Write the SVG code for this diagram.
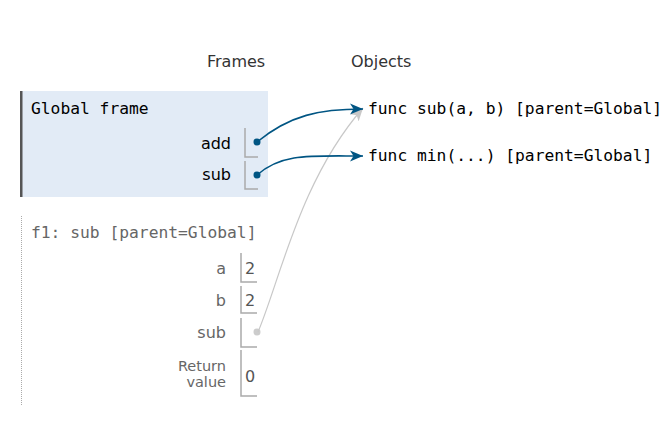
<svg xmlns="http://www.w3.org/2000/svg" width="670" height="422" viewBox="0 0 670 422">
  <style>
    .hdr { font-family: "DejaVu Sans", Verdana, sans-serif; font-size: 16px; fill: #333; }
    .mono { font-family: "DejaVu Sans Mono", "Liberation Mono", monospace; font-size: 16.3px; }
    .lbl { font-family: "DejaVu Sans", Verdana, sans-serif; font-size: 16px; text-anchor: end; }
    .rlbl { font-family: "DejaVu Sans", Verdana, sans-serif; font-size: 14.5px; text-anchor: end; fill: #666; }
    .val { font-family: "DejaVu Sans", Verdana, sans-serif; font-size: 16px; fill: #555; }
    .box { fill: none; stroke: #aaa; stroke-width: 1.5; }
    .g1 { fill: #000; }
    .f1 { fill: #666; }
    .blue { fill: none; stroke: #005583; stroke-width: 1.6; }
    .gray { fill: none; stroke: #c8c8c8; stroke-width: 1.2; }
  </style>
  <defs>
    <marker id="arrBlue" markerUnits="userSpaceOnUse" markerWidth="15" markerHeight="13" viewBox="0 0 15 13" refX="13" refY="6.5" orient="auto">
      <path d="M0,1 L13,6.5 L0,12 L3.5,6.5 Z" fill="#005583"/>
    </marker>
    <marker id="arrGray" markerUnits="userSpaceOnUse" markerWidth="15" markerHeight="13" viewBox="0 0 15 13" refX="13" refY="6.5" orient="auto">
      <path d="M0,1 L13,6.5 L0,12 L3.5,6.5 Z" fill="#c8c8c8"/>
    </marker>
  </defs>
  <rect width="670" height="422" fill="#fff"/>

  <text class="hdr" x="207" y="67">Frames</text>
  <text class="hdr" x="351" y="67">Objects</text>

  <g id="global-frame">
    <rect x="20" y="91" width="248" height="106" fill="#e2ebf6"/>
    <rect x="20" y="91" width="2.5" height="106" fill="#555"/>
    <text class="mono" x="31" y="114" fill="#000">Global frame</text>
    <text class="lbl g1" x="231" y="149">add</text>
    <path class="box" d="M245,128 V157 H258"/>
    <circle cx="257" cy="142" r="3.5" fill="#005583"/>
    <text class="lbl g1" x="231" y="180">sub</text>
    <path class="box" d="M245,161 V189 H258"/>
    <circle cx="257" cy="175" r="3.5" fill="#005583"/>
  </g>

  <g id="f1-frame">
    <line x1="21.5" y1="216" x2="21.5" y2="405" stroke="#aaa" stroke-width="1" stroke-dasharray="1,1"/>
    <text class="mono" x="31" y="238" fill="#666">f1: sub [parent=Global]</text>
    <text class="lbl f1" x="226" y="274">a</text>
    <path class="box" d="M241,253 V282 H257"/>
    <text class="val" x="245" y="274">2</text>
    <text class="lbl f1" x="226" y="306">b</text>
    <path class="box" d="M241,286 V313 H257"/>
    <text class="val" x="245" y="306">2</text>
    <text class="lbl f1" x="226" y="338">sub</text>
    <path class="box" d="M241,318 V347 H257"/>
    <circle cx="257" cy="332" r="3.5" fill="#ccc"/>
    <text class="rlbl" x="226" y="370.5">Return</text>
    <text class="rlbl" x="226" y="387">value</text>
    <path class="box" d="M241,350 V396 H257"/>
    <text class="val" x="245" y="382">0</text>
  </g>

  <g id="obj-func-sub">
    <text class="mono" x="368" y="114" fill="#000">func sub(a, b) [parent=Global]</text>
  </g>
  <g id="obj-func-min">
    <text class="mono" x="368" y="160.5" fill="#000">func min(...) [parent=Global]</text>
  </g>

  <g id="connectors">
    <path class="gray" d="M258,332 C280,280 300,180 363,108" marker-end="url(#arrGray)"/>
    <path class="blue" d="M257,142 C290,115 320,109 363,109" marker-end="url(#arrBlue)"/>
    <path class="blue" d="M257,175 C282,153 310,156 363,156" marker-end="url(#arrBlue)"/>
  </g>
</svg>
